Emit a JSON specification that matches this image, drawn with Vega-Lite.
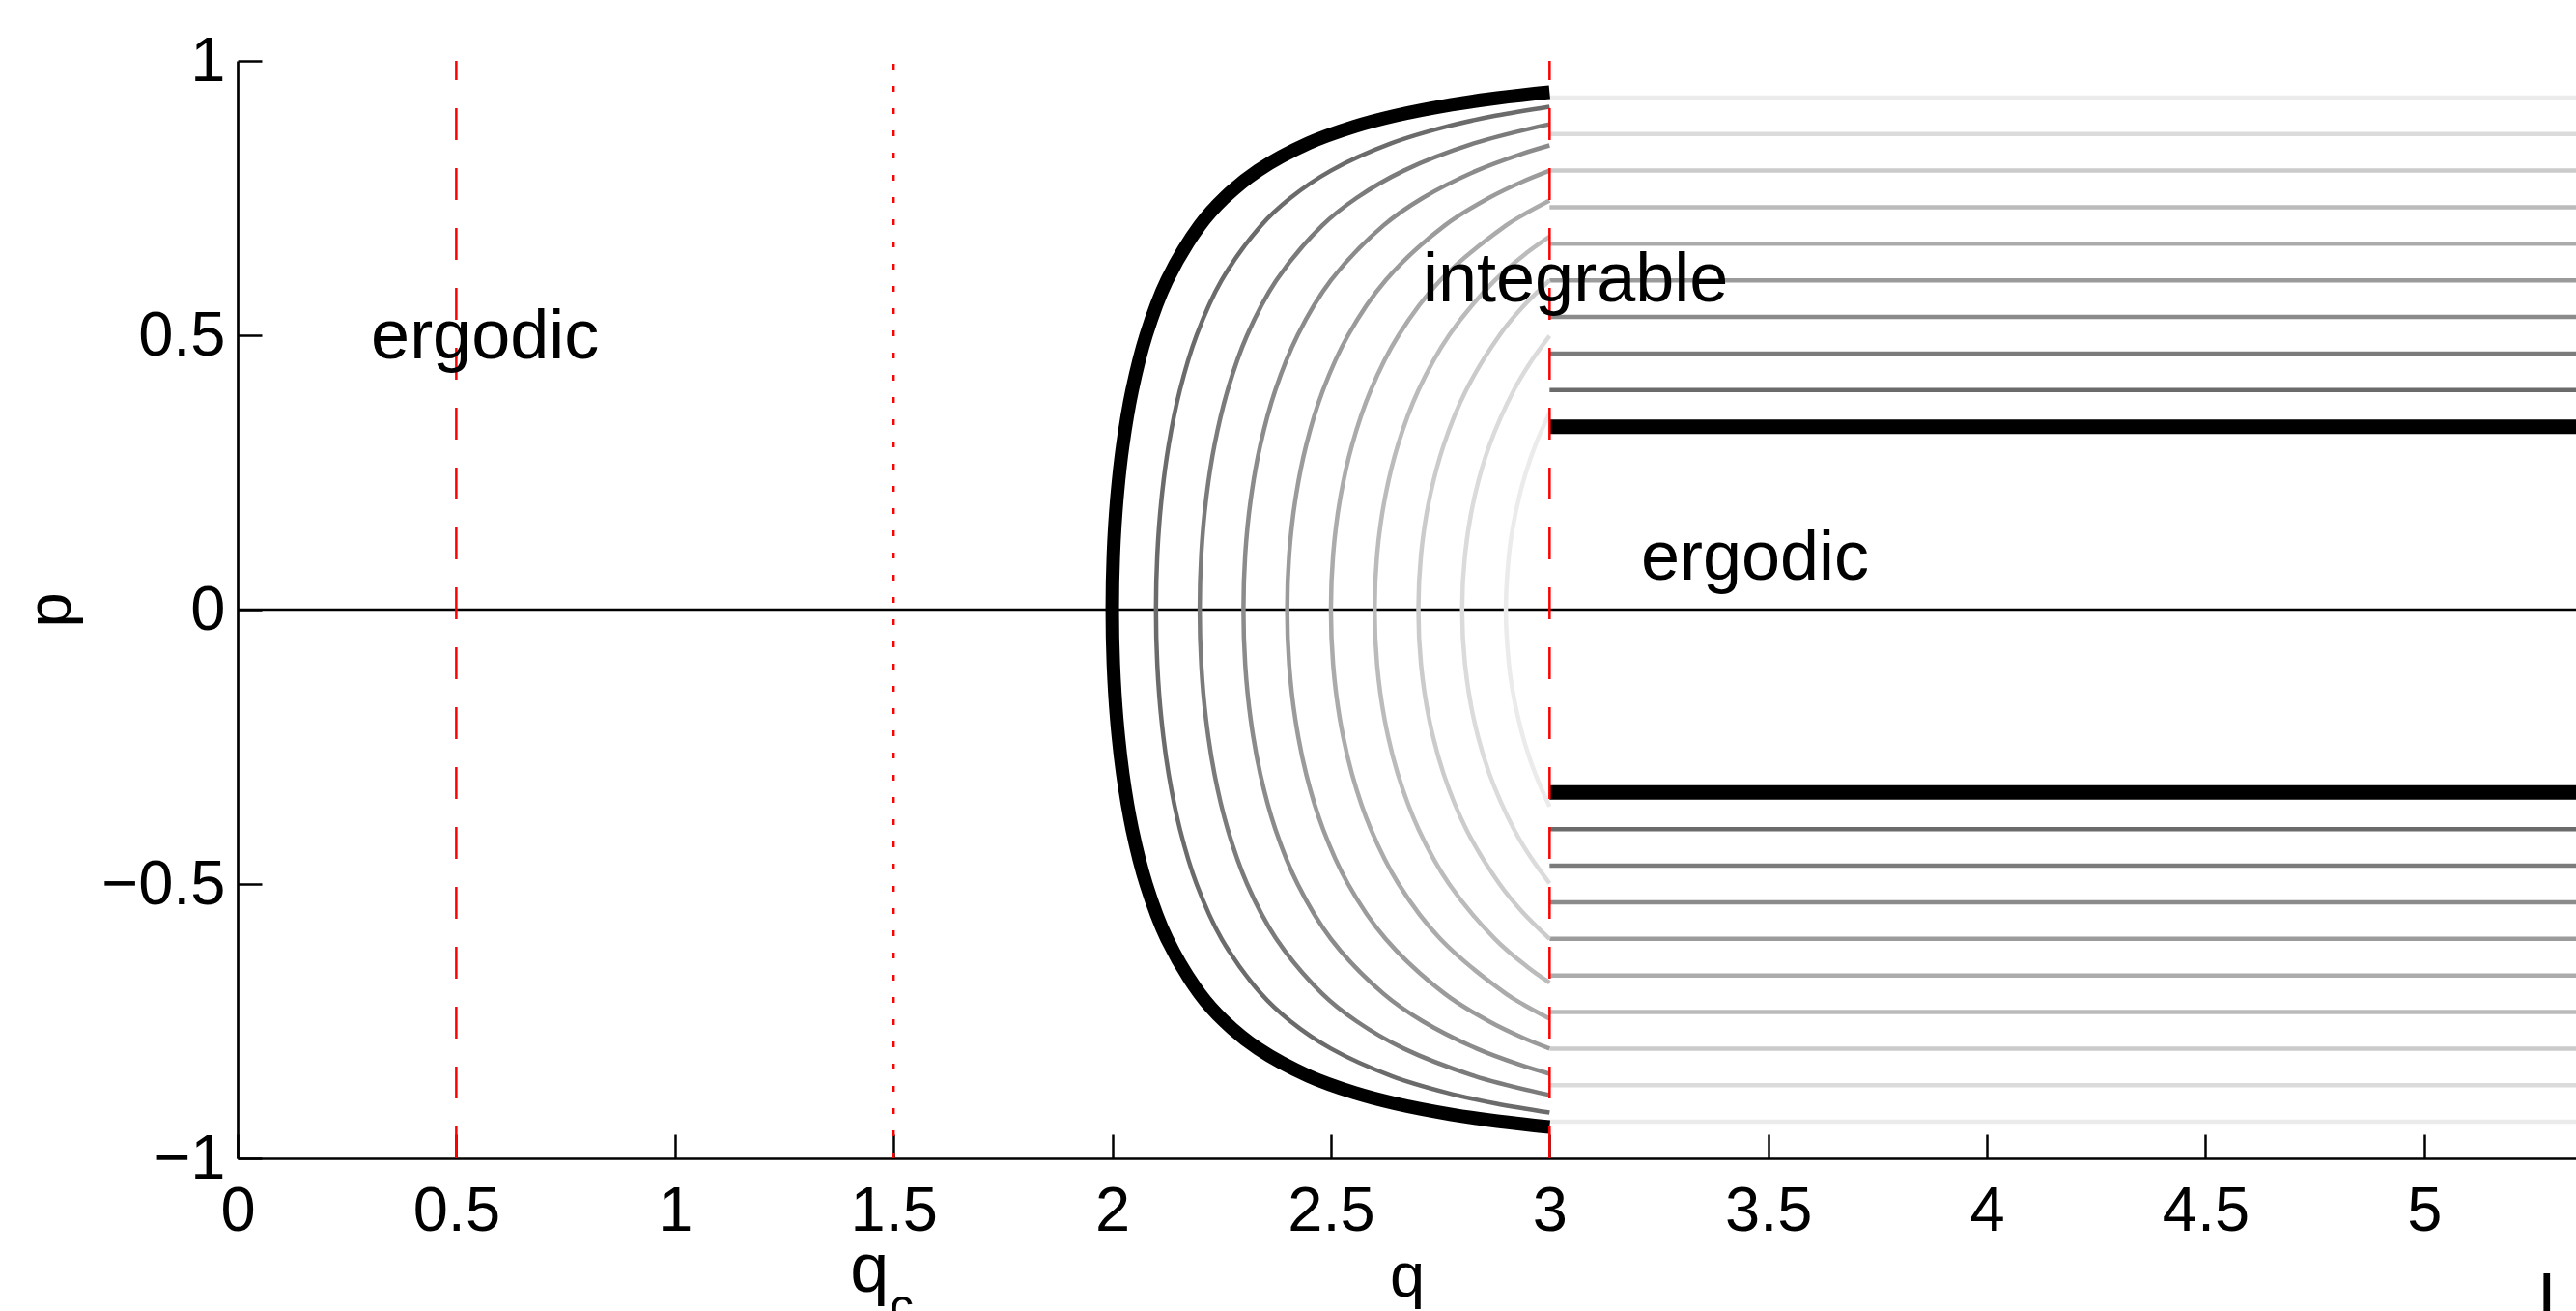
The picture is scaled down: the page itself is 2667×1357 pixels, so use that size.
{
  "$schema": "https://vega.github.io/schema/vega-lite/v6.json",
  "width": 2421,
  "height": 1136,
  "autosize": {"type": "none"},
  "padding": {"left": 246, "top": 63, "right": 0, "bottom": 158},
  "background": "white",
  "config": {
    "view": {"stroke": null},
    "font": "Liberation Sans"
  },
  "datasets": {
    "zero": [{"p": 0}],
    "levels": [
      {"k": 0, "p": 0.3333, "q": 3, "q2": 5.347}, {"k": 1, "p": 0.4, "q": 3, "q2": 5.347},
      {"k": 2, "p": 0.4667, "q": 3, "q2": 5.347}, {"k": 3, "p": 0.5333, "q": 3, "q2": 5.347},
      {"k": 4, "p": 0.6, "q": 3, "q2": 5.347}, {"k": 5, "p": 0.6667, "q": 3, "q2": 5.347},
      {"k": 6, "p": 0.7333, "q": 3, "q2": 5.347}, {"k": 7, "p": 0.8, "q": 3, "q2": 5.347},
      {"k": 8, "p": 0.8667, "q": 3, "q2": 5.347}, {"k": 9, "p": 0.9333, "q": 3, "q2": 5.347},
      {"k": 0, "p": -0.3333, "q": 3, "q2": 5.347}, {"k": 1, "p": -0.4, "q": 3, "q2": 5.347},
      {"k": 2, "p": -0.4667, "q": 3, "q2": 5.347}, {"k": 3, "p": -0.5333, "q": 3, "q2": 5.347},
      {"k": 4, "p": -0.6, "q": 3, "q2": 5.347}, {"k": 5, "p": -0.6667, "q": 3, "q2": 5.347},
      {"k": 6, "p": -0.7333, "q": 3, "q2": 5.347}, {"k": 7, "p": -0.8, "q": 3, "q2": 5.347},
      {"k": 8, "p": -0.8667, "q": 3, "q2": 5.347}, {"k": 9, "p": -0.9333, "q": 3, "q2": 5.347}
    ],
    "arcs": [
      {"k":0,"q":2.0,"p":0},{"k":0,"q":2.0025,"p":0.1},{"k":0,"q":2.0103,"p":0.2},{"k":0,"q":2.0241,"p":0.3},{"k":0,"q":2.0455,"p":0.4},{"k":0,"q":2.0774,"p":0.5},{"k":0,"q":2.125,"p":0.6},{"k":0,"q":2.2001,"p":0.7},{"k":0,"q":2.2559,"p":0.75},{"k":0,"q":2.3333,"p":0.8},{"k":0,"q":2.4492,"p":0.85},{"k":0,"q":2.5527,"p":0.88},{"k":0,"q":2.6471,"p":0.9},{"k":0,"q":2.7758,"p":0.92},{"k":0,"q":2.8598,"p":0.93},{"k":0,"q":2.9655,"p":0.94},{"k":0,"q":3.0,"p":0.9428},
      {"k":0,"q":2.0025,"p":-0.1},{"k":0,"q":2.0103,"p":-0.2},{"k":0,"q":2.0241,"p":-0.3},{"k":0,"q":2.0455,"p":-0.4},{"k":0,"q":2.0774,"p":-0.5},{"k":0,"q":2.125,"p":-0.6},{"k":0,"q":2.2001,"p":-0.7},{"k":0,"q":2.2559,"p":-0.75},{"k":0,"q":2.3333,"p":-0.8},{"k":0,"q":2.4492,"p":-0.85},{"k":0,"q":2.5527,"p":-0.88},{"k":0,"q":2.6471,"p":-0.9},{"k":0,"q":2.7758,"p":-0.92},{"k":0,"q":2.8598,"p":-0.93},{"k":0,"q":2.9655,"p":-0.94},{"k":0,"q":3.0,"p":-0.9428},

      {"k":1,"q":2.1,"p":0},{"k":1,"q":2.103,"p":0.1},{"k":1,"q":2.1124,"p":0.2},{"k":1,"q":2.129,"p":0.3},{"k":1,"q":2.1547,"p":0.4},{"k":1,"q":2.1928,"p":0.5},{"k":1,"q":2.25,"p":0.6},{"k":1,"q":2.3402,"p":0.7},{"k":1,"q":2.4071,"p":0.75},{"k":1,"q":2.5,"p":0.8},{"k":1,"q":2.639,"p":0.85},{"k":1,"q":2.7632,"p":0.88},{"k":1,"q":2.8765,"p":0.9},{"k":1,"q":3.0,"p":0.9165},
      {"k":1,"q":2.103,"p":-0.1},{"k":1,"q":2.1124,"p":-0.2},{"k":1,"q":2.129,"p":-0.3},{"k":1,"q":2.1547,"p":-0.4},{"k":1,"q":2.1928,"p":-0.5},{"k":1,"q":2.25,"p":-0.6},{"k":1,"q":2.3402,"p":-0.7},{"k":1,"q":2.4071,"p":-0.75},{"k":1,"q":2.5,"p":-0.8},{"k":1,"q":2.639,"p":-0.85},{"k":1,"q":2.7632,"p":-0.88},{"k":1,"q":2.8765,"p":-0.9},{"k":1,"q":3.0,"p":-0.9165},

      {"k":2,"q":2.2,"p":0},{"k":2,"q":2.2035,"p":0.1},{"k":2,"q":2.2144,"p":0.2},{"k":2,"q":2.2338,"p":0.3},{"k":2,"q":2.2638,"p":0.4},{"k":2,"q":2.3083,"p":0.5},{"k":2,"q":2.375,"p":0.6},{"k":2,"q":2.4802,"p":0.7},{"k":2,"q":2.5583,"p":0.75},{"k":2,"q":2.6667,"p":0.8},{"k":2,"q":2.8288,"p":0.85},{"k":2,"q":2.9738,"p":0.88},{"k":2,"q":3.0,"p":0.8844},
      {"k":2,"q":2.2035,"p":-0.1},{"k":2,"q":2.2144,"p":-0.2},{"k":2,"q":2.2338,"p":-0.3},{"k":2,"q":2.2638,"p":-0.4},{"k":2,"q":2.3083,"p":-0.5},{"k":2,"q":2.375,"p":-0.6},{"k":2,"q":2.4802,"p":-0.7},{"k":2,"q":2.5583,"p":-0.75},{"k":2,"q":2.6667,"p":-0.8},{"k":2,"q":2.8288,"p":-0.85},{"k":2,"q":2.9738,"p":-0.88},{"k":2,"q":3.0,"p":-0.8844},

      {"k":3,"q":2.3,"p":0},{"k":3,"q":2.304,"p":0.1},{"k":3,"q":2.3165,"p":0.2},{"k":3,"q":2.3386,"p":0.3},{"k":3,"q":2.3729,"p":0.4},{"k":3,"q":2.4238,"p":0.5},{"k":3,"q":2.5,"p":0.6},{"k":3,"q":2.6202,"p":0.7},{"k":3,"q":2.7095,"p":0.75},{"k":3,"q":2.8333,"p":0.8},{"k":3,"q":2.9343,"p":0.83},{"k":3,"q":3.0,"p":0.8459},
      {"k":3,"q":2.304,"p":-0.1},{"k":3,"q":2.3165,"p":-0.2},{"k":3,"q":2.3386,"p":-0.3},{"k":3,"q":2.3729,"p":-0.4},{"k":3,"q":2.4238,"p":-0.5},{"k":3,"q":2.5,"p":-0.6},{"k":3,"q":2.6202,"p":-0.7},{"k":3,"q":2.7095,"p":-0.75},{"k":3,"q":2.8333,"p":-0.8},{"k":3,"q":2.9343,"p":-0.83},{"k":3,"q":3.0,"p":-0.8459},

      {"k":4,"q":2.4,"p":0},{"k":4,"q":2.4045,"p":0.1},{"k":4,"q":2.4186,"p":0.2},{"k":4,"q":2.4435,"p":0.3},{"k":4,"q":2.482,"p":0.4},{"k":4,"q":2.5392,"p":0.5},{"k":4,"q":2.625,"p":0.6},{"k":4,"q":2.7603,"p":0.7},{"k":4,"q":2.8607,"p":0.75},{"k":4,"q":2.9382,"p":0.78},{"k":4,"q":3.0,"p":0.8},
      {"k":4,"q":2.4045,"p":-0.1},{"k":4,"q":2.4186,"p":-0.2},{"k":4,"q":2.4435,"p":-0.3},{"k":4,"q":2.482,"p":-0.4},{"k":4,"q":2.5392,"p":-0.5},{"k":4,"q":2.625,"p":-0.6},{"k":4,"q":2.7603,"p":-0.7},{"k":4,"q":2.8607,"p":-0.75},{"k":4,"q":2.9382,"p":-0.78},{"k":4,"q":3.0,"p":-0.8},

      {"k":5,"q":2.5,"p":0},{"k":5,"q":2.505,"p":0.1},{"k":5,"q":2.5206,"p":0.2},{"k":5,"q":2.5483,"p":0.3},{"k":5,"q":2.5911,"p":0.4},{"k":5,"q":2.6547,"p":0.5},{"k":5,"q":2.75,"p":0.6},{"k":5,"q":2.9003,"p":0.7},{"k":5,"q":2.941,"p":0.72},{"k":5,"q":3.0,"p":0.7454},
      {"k":5,"q":2.505,"p":-0.1},{"k":5,"q":2.5206,"p":-0.2},{"k":5,"q":2.5483,"p":-0.3},{"k":5,"q":2.5911,"p":-0.4},{"k":5,"q":2.6547,"p":-0.5},{"k":5,"q":2.75,"p":-0.6},{"k":5,"q":2.9003,"p":-0.7},{"k":5,"q":2.941,"p":-0.72},{"k":5,"q":3.0,"p":-0.7454},

      {"k":6,"q":2.6,"p":0},{"k":6,"q":2.6055,"p":0.1},{"k":6,"q":2.6227,"p":0.2},{"k":6,"q":2.6531,"p":0.3},{"k":6,"q":2.7002,"p":0.4},{"k":6,"q":2.7702,"p":0.5},{"k":6,"q":2.875,"p":0.6},{"k":6,"q":2.9475,"p":0.65},{"k":6,"q":3.0,"p":0.6799},
      {"k":6,"q":2.6055,"p":-0.1},{"k":6,"q":2.6227,"p":-0.2},{"k":6,"q":2.6531,"p":-0.3},{"k":6,"q":2.7002,"p":-0.4},{"k":6,"q":2.7702,"p":-0.5},{"k":6,"q":2.875,"p":-0.6},{"k":6,"q":2.9475,"p":-0.65},{"k":6,"q":3.0,"p":-0.6799},

      {"k":7,"q":2.7,"p":0},{"k":7,"q":2.706,"p":0.1},{"k":7,"q":2.7247,"p":0.2},{"k":7,"q":2.7579,"p":0.3},{"k":7,"q":2.8093,"p":0.4},{"k":7,"q":2.8856,"p":0.5},{"k":7,"q":2.9368,"p":0.55},{"k":7,"q":3.0,"p":0.6},
      {"k":7,"q":2.706,"p":-0.1},{"k":7,"q":2.7247,"p":-0.2},{"k":7,"q":2.7579,"p":-0.3},{"k":7,"q":2.8093,"p":-0.4},{"k":7,"q":2.8856,"p":-0.5},{"k":7,"q":2.9368,"p":-0.55},{"k":7,"q":3.0,"p":-0.6},

      {"k":8,"q":2.8,"p":0},{"k":8,"q":2.8066,"p":0.1},{"k":8,"q":2.8268,"p":0.2},{"k":8,"q":2.8628,"p":0.3},{"k":8,"q":2.9184,"p":0.4},{"k":8,"q":2.9557,"p":0.45},{"k":8,"q":3.0,"p":0.4989},
      {"k":8,"q":2.8066,"p":-0.1},{"k":8,"q":2.8268,"p":-0.2},{"k":8,"q":2.8628,"p":-0.3},{"k":8,"q":2.9184,"p":-0.4},{"k":8,"q":2.9557,"p":-0.45},{"k":8,"q":3.0,"p":-0.4989},

      {"k":9,"q":2.9,"p":0},{"k":9,"q":2.9071,"p":0.1},{"k":9,"q":2.916,"p":0.15},{"k":9,"q":2.9289,"p":0.2},{"k":9,"q":2.9459,"p":0.25},{"k":9,"q":2.9676,"p":0.3},{"k":9,"q":3.0,"p":0.359},
      {"k":9,"q":2.9071,"p":-0.1},{"k":9,"q":2.916,"p":-0.15},{"k":9,"q":2.9289,"p":-0.2},{"k":9,"q":2.9459,"p":-0.25},{"k":9,"q":2.9676,"p":-0.3},{"k":9,"q":3.0,"p":-0.359}
    ],
    "dashed": [{"q": 0.5, "p": -1, "p2": 1}, {"q": 3, "p": -1, "p2": 1}],
    "dotted": [{"q": 1.5, "p": -1, "p2": 1}],
    "notes": [
      {"text": "ergodic", "q": 0.305, "p": 0.458},
      {"text": "integrable", "q": 2.71, "p": 0.5616},
      {"text": "ergodic", "q": 3.209, "p": 0.0546},
      {"text": "q", "q": 1.401, "p": -1.243},
      {"text": "L", "q": 5.26, "p": -1.298}
    ],
    "subs": [{"text": "c", "q": 1.491, "p": -1.299}]
  },
  "layer": [
    {
      "data": {"name": "zero"},
      "mark": {"type": "rule", "color": "black", "strokeWidth": 2.5},
      "encoding": {
        "y": {
          "field": "p", "type": "quantitative",
          "scale": {"domain": [-1, 1], "nice": false, "zero": false},
          "axis": {
            "title": "p", "values": [-1, -0.5, 0, 0.5, 1], "format": "~g", "grid": false,
            "tickSize": -25, "tickWidth": 2.5, "tickColor": "black",
            "domainColor": "black", "domainWidth": 2.7,
            "labelFont": "Liberation Sans", "labelFontSize": 65, "labelColor": "black",
            "labelPadding": 38, "labelFlush": false, "labelOverlap": false,
            "titleFont": "Liberation Sans", "titleFontSize": 65, "titleFontWeight": "normal", "titleColor": "black",
            "titleAngle": 270, "titleBaseline": "alphabetic", "titleAlign": "center", "titleX": -174, "titleY": 568
          }
        }
      }
    },
    {
      "data": {"name": "levels"},
      "transform": [{"filter": "datum.k > 0"}],
      "mark": {"type": "rule", "strokeWidth": 4.5},
      "encoding": {
        "x": {
          "field": "q", "type": "quantitative",
          "scale": {"domain": [0, 5.347], "nice": false, "zero": false},
          "axis": {
            "title": "q", "values": [0, 0.5, 1, 1.5, 2, 2.5, 3, 3.5, 4, 4.5, 5], "format": "~g", "grid": false,
            "tickSize": -25, "tickWidth": 2.5, "tickColor": "black",
            "domainColor": "black", "domainWidth": 2.7,
            "labelFont": "Liberation Sans", "labelFontSize": 65, "labelColor": "black",
            "labelPadding": 48, "labelFlush": false, "labelOverlap": false,
            "titleFont": "Liberation Sans", "titleFontSize": 65, "titleFontWeight": "normal", "titleColor": "black",
            "titleBaseline": "alphabetic", "titleY": 142
          }
        },
        "x2": {"field": "q2"},
        "y": {"field": "p", "type": "quantitative"},
        "color": {
          "field": "k", "type": "ordinal", "legend": null,
          "scale": {"domain": [0, 1, 2, 3, 4, 5, 6, 7, 8, 9], "range": ["#000000", "#6b6b6b", "#7b7b7b", "#8b8b8b", "#9b9b9b", "#ababab", "#bbbbbb", "#cbcbcb", "#dbdbdb", "#ebebeb"]}
        }
      }
    },
    {
      "data": {"name": "levels"},
      "transform": [{"filter": "datum.k == 0"}],
      "mark": {"type": "rule", "strokeWidth": 15, "color": "black"},
      "encoding": {
        "x": {"field": "q", "type": "quantitative"},
        "x2": {"field": "q2"},
        "y": {"field": "p", "type": "quantitative"}
      }
    },
    {
      "data": {"name": "arcs"},
      "transform": [{"filter": "datum.k > 0"}],
      "mark": {"type": "line", "strokeWidth": 4.5, "interpolate": "catmull-rom"},
      "encoding": {
        "x": {"field": "q", "type": "quantitative"},
        "y": {"field": "p", "type": "quantitative"},
        "detail": {"field": "k", "type": "nominal"},
        "order": {"field": "p", "type": "quantitative"},
        "color": {"field": "k", "type": "ordinal", "legend": null}
      }
    },
    {
      "data": {"name": "arcs"},
      "transform": [{"filter": "datum.k == 0"}],
      "mark": {"type": "line", "strokeWidth": 14, "color": "black", "interpolate": "catmull-rom"},
      "encoding": {
        "x": {"field": "q", "type": "quantitative"},
        "y": {"field": "p", "type": "quantitative"},
        "order": {"field": "p", "type": "quantitative"}
      }
    },
    {
      "data": {"name": "dashed"},
      "mark": {"type": "rule", "color": "#ff0000", "strokeWidth": 2.5, "strokeDash": [33, 29]},
      "encoding": {
        "x": {"field": "q", "type": "quantitative"},
        "y": {"field": "p", "type": "quantitative"},
        "y2": {"field": "p2"}
      }
    },
    {
      "data": {"name": "dotted"},
      "mark": {"type": "rule", "color": "#ff0000", "strokeWidth": 2.5, "strokeDash": [6, 17]},
      "encoding": {
        "x": {"field": "q", "type": "quantitative"},
        "y": {"field": "p", "type": "quantitative"},
        "y2": {"field": "p2"}
      }
    },
    {
      "data": {"name": "notes"},
      "mark": {"type": "text", "font": "Liberation Sans", "fontSize": 72, "align": "left", "baseline": "alphabetic", "color": "black"},
      "encoding": {
        "x": {"field": "q", "type": "quantitative"},
        "y": {"field": "p", "type": "quantitative"},
        "text": {"field": "text"}
      }
    },
    {
      "data": {"name": "subs"},
      "mark": {"type": "text", "font": "Liberation Sans", "fontSize": 50, "align": "left", "baseline": "alphabetic", "color": "black"},
      "encoding": {
        "x": {"field": "q", "type": "quantitative"},
        "y": {"field": "p", "type": "quantitative"},
        "text": {"field": "text"}
      }
    }
  ]
}
